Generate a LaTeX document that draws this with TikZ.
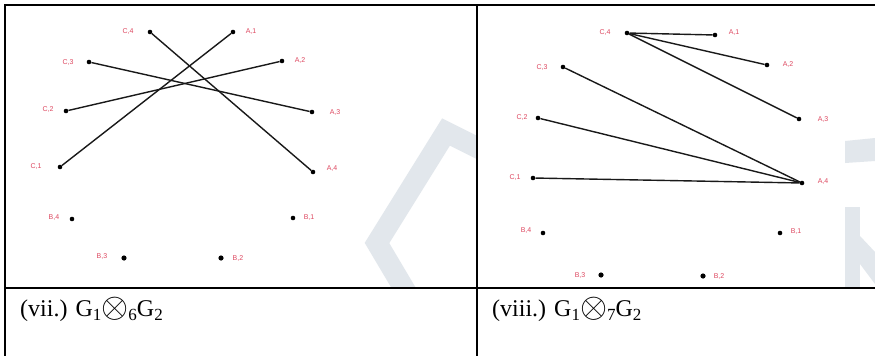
\documentclass[tikz,border=0pt]{standalone}
\usepackage{graphicx}
\usepackage{fontspec}
\setmainfont{Liberation Serif}
\newfontfamily\labfont{Liberation Sans}
% lowered index and enlarged product sign for the captions
\newcommand{\lowidx}[1]{\raisebox{-0.18em}{\fontsize{17}{17}\selectfont #1}}
\newcommand{\prodsign}{\raisebox{-0.06em}{\scalebox{1.4}{$\otimes$}}}
\begin{document}
\begin{tikzpicture}[x=1pt,y=-1pt,
  vtx/.style={circle,fill=black,inner sep=0pt,minimum size=4.6pt},
  vlab/.style={font=\labfont\fontsize{7}{8}\selectfont,text=labred,inner sep=0pt},
  edge/.style={draw=black!90,line width=1.4pt},
  rule/.style={draw=black,line width=1.8pt},
  wm/.style={draw=wmgray,line width=21pt,line join=miter},
  caption/.style={font=\fontsize{24}{28}\selectfont,anchor=base west,inner sep=0pt}]
\definecolor{labred}{RGB}{222,72,96}
\definecolor{wmgray}{RGB}{226,231,236}
\useasboundingbox (0,0) rectangle (875,356);
\fill[white] (0,0) rectangle (875,356);

% background watermark pieces
\begin{scope}
  \clip (6,6) rectangle (476,287);
  \draw[wm] (482,150) -- (446,132) -- (377,243) -- (412,302);
\end{scope}
\fill[wmgray] (845,141) -- (875,138) -- (875,161) -- (845,163) -- cycle;
\fill[wmgray] (845,207) rectangle (860,287);
\fill[wmgray] (860,236) -- (875,252) -- (875,284) -- (860,264) -- cycle;

% table rules
\draw[rule] (5,5) -- (875,5);
\draw[rule] (5,288) -- (875,288);
\draw[rule] (5,4.1) -- (5,356);
\draw[rule] (477,5) -- (477,356);

% left graph: vertices
\node[vtx] (lC4) at (150,32) {};  \node[vlab] (lC4t) at (128,32) {C,4};
\node[vtx] (lC3) at (89,62) {};   \node[vlab] (lC3t) at (68,63) {C,3};
\node[vtx] (lC2) at (66,111) {};  \node[vlab] (lC2t) at (48,110) {C,2};
\node[vtx] (lC1) at (60,167) {};  \node[vlab] (lC1t) at (36,167) {C,1};
\node[vtx] (lA1) at (233,32) {};  \node[vlab] (lA1t) at (251,32) {A,1};
\node[vtx] (lA2) at (282,61) {};  \node[vlab] (lA2t) at (300,61) {A,2};
\node[vtx] (lA3) at (312,112) {}; \node[vlab] (lA3t) at (335,113) {A,3};
\node[vtx] (lA4) at (313,172) {}; \node[vlab] (lA4t) at (332,169) {A,4};
\node[vtx] (lB4) at (72,219) {};  \node[vlab] (lB4t) at (54,218) {B,4};
\node[vtx] (lB1) at (293,218) {}; \node[vlab] (lB1t) at (309,218) {B,1};
\node[vtx,minimum size=5.2pt] (lB3) at (124,258) {}; \node[vlab] (lB3t) at (102,257) {B,3};
\node[vtx,minimum size=5.2pt] (lB2) at (221,258) {}; \node[vlab] (lB2t) at (238,259) {B,2};
% left graph: edges
\draw[edge] (lC4) -- (lA4);
\draw[edge] (lC3) -- (lA3);
\draw[edge] (lC2) -- (lA2);
\draw[edge] (lC1) -- (lA1);

% right graph: vertices
\node[vtx] (rC4) at (627,33) {};  \node[vlab] (rC4t) at (605,33) {C,4};
\node[vtx] (rC3) at (563,67) {};  \node[vlab] (rC3t) at (542,68) {C,3};
\node[vtx] (rC2) at (538,118) {}; \node[vlab] (rC2t) at (522,118) {C,2};
\node[vtx] (rC1) at (533,178) {}; \node[vlab] (rC1t) at (515,178) {C,1};
\node[vtx] (rA1) at (715,35) {};  \node[vlab] (rA1t) at (734,33) {A,1};
\node[vtx] (rA2) at (767,65) {};  \node[vlab] (rA2t) at (788,65) {A,2};
\node[vtx] (rA3) at (799,119) {}; \node[vlab] (rA3t) at (823,120) {A,3};
\node[vtx] (rA4) at (802,183) {}; \node[vlab] (rA4t) at (823,182) {A,4};
\node[vtx] (rB4) at (543,233) {}; \node[vlab] (rB4t) at (526,231) {B,4};
\node[vtx] (rB1) at (780,233) {}; \node[vlab] (rB1t) at (796,232) {B,1};
\node[vtx,minimum size=5.2pt] (rB3) at (601,275) {}; \node[vlab] (rB3t) at (580,275) {B,3};
\node[vtx,minimum size=5.2pt] (rB2) at (703,276) {}; \node[vlab] (rB2t) at (719,277) {B,2};
% right graph: edges
\draw[edge] (rC4) -- (rA1);
\draw[edge] (rC4) -- (rA2);
\draw[edge] (rC4) -- (rA3);
\draw[edge] (rC3) -- (rA4);
\draw[edge] (rC2) -- (rA4);
\draw[edge] (rC1) -- (rA4);

% captions
\node[caption] (capL) at (20,316) {(vii.) G\lowidx{1}\prodsign\lowidx{6}G\lowidx{2}};
\node[caption] (capR) at (492,316) {(viii.) G\lowidx{1}\prodsign\lowidx{7}G\lowidx{2}};
\end{tikzpicture}
\end{document}
